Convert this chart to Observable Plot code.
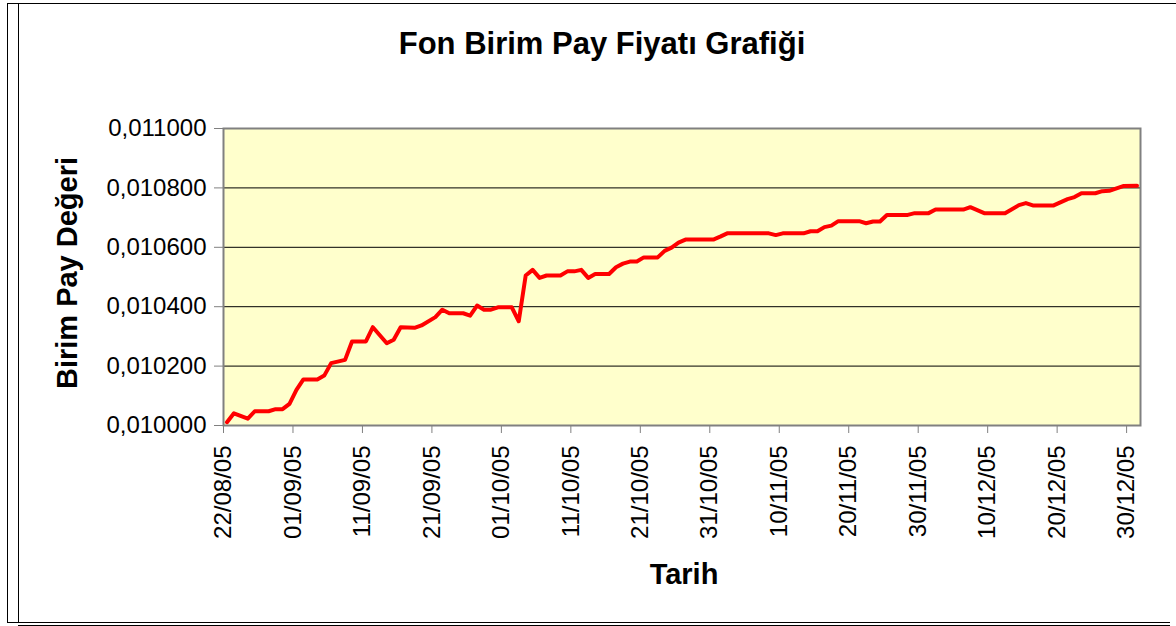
<!DOCTYPE html>
<html><head><meta charset="utf-8">
<script src="https://cdn.jsdelivr.net/npm/d3@7"></script>
<script src="https://cdn.jsdelivr.net/npm/@observablehq/plot@0.6"></script>
<style>
body{margin:0;background:#fff;}
#wrap{position:relative;width:1176px;height:626px;overflow:hidden;}
.b{position:absolute;background:#000;}
</style></head><body><div id="wrap"></div>
<script>
const titleText = "Fon Birim Pay Fiyatı Grafiği";
const yLabelText = "Birim Pay Değeri";
const xLabelText = "Tarih";

const dates = ["22/08/05","23/08/05","25/08/05","26/08/05","28/08/05","29/08/05","30/08/05","31/08/05",
"01/09/05","02/09/05","04/09/05","05/09/05","06/09/05","08/09/05","09/09/05","11/09/05","12/09/05","14/09/05",
"15/09/05","16/09/05","18/09/05","19/09/05","21/09/05","22/09/05","23/09/05","25/09/05","26/09/05","27/09/05",
"28/09/05","29/09/05","30/09/05","02/10/05","03/10/05","04/10/05","05/10/05","06/10/05","07/10/05","09/10/05",
"10/10/05","11/10/05","12/10/05","13/10/05","14/10/05","16/10/05","17/10/05","18/10/05","19/10/05","20/10/05",
"21/10/05","23/10/05","24/10/05","25/10/05","26/10/05","27/10/05","31/10/05","01/11/05","02/11/05","08/11/05",
"09/11/05","10/11/05","13/11/05","14/11/05","15/11/05","16/11/05","17/11/05","18/11/05","21/11/05","22/11/05",
"23/11/05","24/11/05","25/11/05","28/11/05","29/11/05","01/12/05","02/12/05","06/12/05","07/12/05","09/12/05",
"12/12/05","14/12/05","15/12/05","16/12/05","19/12/05","21/12/05","22/12/05","23/12/05","25/12/05","26/12/05",
"27/12/05","29/12/05","31/12/05"];

const values = [0.010011,0.010041,0.010023,0.010048,0.010048,0.010055,0.010055,0.010073,
0.010120,0.010155,0.010155,0.010168,0.010210,0.010221,0.010283,0.010283,0.010331,0.010277,
0.010289,0.010331,0.010329,0.010337,0.010365,0.010390,0.010378,0.010378,0.010370,0.010404,
0.010390,0.010390,0.010398,0.010398,0.010351,0.010505,0.010524,0.010497,0.010505,0.010505,
0.010519,0.010519,0.010524,0.010497,0.010510,0.010510,0.010533,0.010545,0.010552,0.010552,
0.010566,0.010566,0.010588,0.010599,0.010616,0.010626,0.010626,0.010636,0.010647,0.010647,
0.010641,0.010647,0.010647,0.010654,0.010654,0.010668,0.010673,0.010688,0.010688,0.010681,
0.010687,0.010687,0.010709,0.010709,0.010715,0.010715,0.010727,0.010727,0.010735,0.010715,
0.010715,0.010742,0.010749,0.010741,0.010741,0.010762,0.010769,0.010782,0.010782,0.010789,
0.010790,0.010806,0.010807];

const xTickLabels = ["22/08/05","01/09/05","11/09/05","21/09/05","01/10/05","11/10/05","21/10/05",
"31/10/05","10/11/05","20/11/05","30/11/05","10/12/05","20/12/05","30/12/05"];
const yTicks = [0.0100,0.0102,0.0104,0.0106,0.0108,0.0110];
const xDomain = ["22/08/05","01/01/06"];

const parse = d3.utcParse("%d/%m/%y");
const fmt = d3.utcFormat("%d/%m/%y");
const halfDay = 12*3600*1000;
const data = dates.map((d,i)=>({date:new Date(parse(d).getTime()+halfDay), value:values[i]}));
const xTicks = xTickLabels.map(parse);

const font = 'Arial, "Liberation Sans", sans-serif';
const chart = Plot.plot({
  width:1176, height:626,
  marginLeft:223, marginRight:36, marginTop:128, marginBottom:201,
  style:{fontFamily:font, fontSize:"24px", color:"#000", background:"transparent", overflow:"visible"},
  x:{type:"utc", domain:xDomain.map(parse), label:null},
  y:{domain:[yTicks[0], yTicks[yTicks.length-1]], label:null},
  marks:[
    Plot.frame({fill:"#FFFFCC"}),
    Plot.gridY(yTicks,{stroke:"#000", strokeOpacity:1, strokeWidth:1}),
    Plot.line(data,{x:"date", y:"value", stroke:"#FF0000", strokeWidth:4, strokeLinejoin:"round", strokeLinecap:"round"}),
    Plot.frame({stroke:"#808080", strokeWidth:2}),
    Plot.axisY(yTicks,{tickFormat:d=>d.toFixed(6).replace(".",","), tickSize:9, tickPadding:8, stroke:"#808080", fill:"#000", fontSize:24, label:null}),
    Plot.axisX(xTicks,{tickFormat:fmt, tickRotate:-90, tickSize:8, tickPadding:12, stroke:"#808080", fill:"#000", fontSize:24, label:null}),
    Plot.text([titleText],{text:d=>d, frameAnchor:"top", lineAnchor:"middle", textAnchor:"middle", dx:-80, dy:-84, fontSize:31, fontWeight:"bold", fill:"#000"}),
    Plot.text([yLabelText],{text:d=>d, frameAnchor:"left", lineAnchor:"middle", textAnchor:"middle", dx:-156, dy:-4, rotate:-90, fontSize:29, fontWeight:"bold", fill:"#000"}),
    Plot.text([xLabelText],{text:d=>d, frameAnchor:"bottom", lineAnchor:"middle", textAnchor:"middle", dx:2, dy:149, fontSize:29, fontWeight:"bold", fill:"#000"})
  ]
});
const wrap = document.getElementById("wrap");
wrap.appendChild(chart);
function line(l,t,w,h){const e=document.createElement("div");e.className="b";e.style.left=l+"px";e.style.top=t+"px";e.style.width=w+"px";e.style.height=h+"px";wrap.appendChild(e);}
line(7,3,1169,1);
line(7,3,1,620);
line(18,3,1,620);
line(7,622,1163,1);
line(18,625,1152,1);
</script></body></html>
